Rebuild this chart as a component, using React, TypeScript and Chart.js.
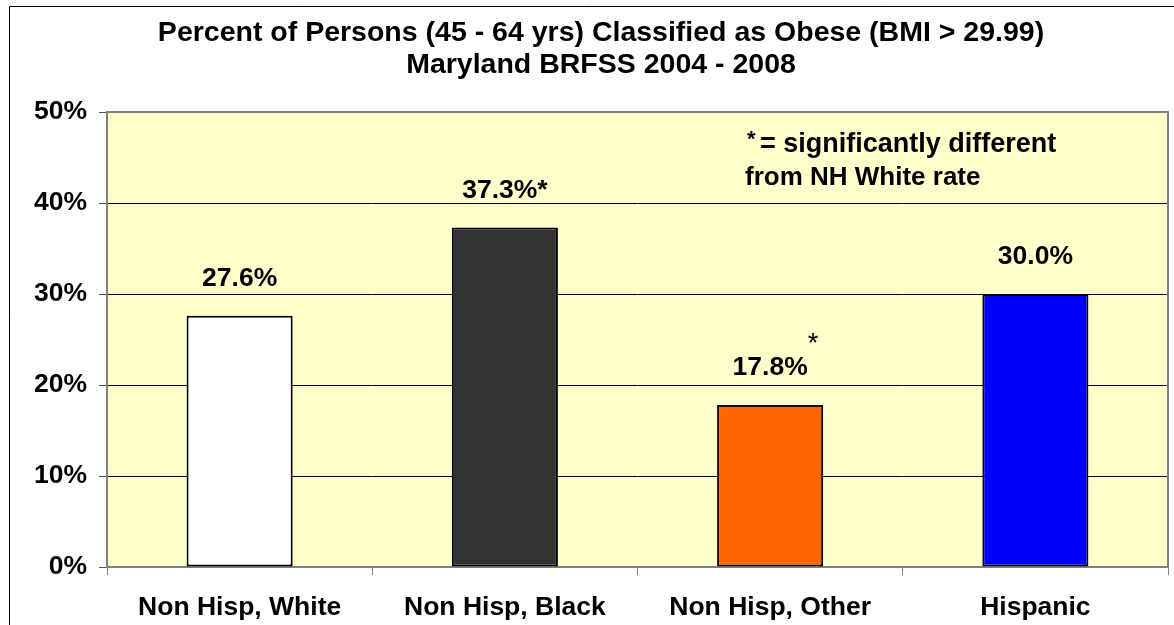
import React, { useEffect, useRef } from 'react';
import { Chart, registerables } from 'chart.js';

Chart.register(...registerables);

const categories = ['Non Hisp, White', 'Non Hisp, Black', 'Non Hisp, Other', 'Hispanic'];
const values = [27.6, 37.3, 17.8, 30.0];
const barColors = ['#FFFFFF', '#333333', '#FF6600', '#0000FF'];
// asterisk style per bar: '' none, 'inline' bold right after label, 'raised' thin raised star
const significance = ['', 'inline', 'raised', ''];
const yMin = 0;
const yMax = 50;
const yStep = 10;
const titleLines = [
  'Percent of Persons (45 - 64 yrs) Classified as Obese (BMI > 29.99)',
  'Maryland BRFSS 2004 - 2008',
];
const noteLines = ['= significantly different', 'from NH White rate'];

const FONT = "'Liberation Sans', Arial, Helvetica, sans-serif";

const decor = {
  id: 'decor',
  beforeDraw(chart: any) {
    const { ctx, chartArea: a } = chart;
    ctx.save();
    ctx.fillStyle = '#FFFFCC';
    ctx.fillRect(a.left, a.top, a.right - a.left, a.bottom - a.top);
    ctx.strokeStyle = '#000000';
    ctx.lineWidth = 1;
    ctx.beginPath();
    ctx.moveTo(9.5, chart.height);
    ctx.lineTo(9.5, 6.5);
    ctx.lineTo(chart.width, 6.5);
    ctx.stroke();
    ctx.fillStyle = '#000000';
    ctx.textAlign = 'center';
    ctx.textBaseline = 'alphabetic';
    ctx.font = `bold 28.5px ${FONT}`;
    ctx.fillText(titleLines[0], 601, 41);
    ctx.fillText(titleLines[1], 601, 73);
    ctx.restore();
  },
  beforeDatasetsDraw(chart: any) {
    const { ctx, chartArea: a } = chart;
    ctx.save();
    ctx.strokeStyle = '#808080';
    ctx.lineWidth = 2;
    ctx.strokeRect(a.left, a.top, a.right - a.left, a.bottom - a.top);
    ctx.restore();
  },
  afterDatasetsDraw(chart: any) {
    const { ctx } = chart;
    const meta = chart.getDatasetMeta(0);
    ctx.save();
    ctx.fillStyle = '#000000';
    ctx.textBaseline = 'alphabetic';
    meta.data.forEach((bar: any, i: number) => {
      const txt = values[i].toFixed(1) + '%';
      const y = bar.y - 30;
      ctx.font = `bold 26.5px ${FONT}`;
      ctx.textAlign = 'center';
      if (significance[i] === 'inline') {
        ctx.fillText(txt + '*', bar.x, y);
      } else {
        ctx.fillText(txt, bar.x, y);
        if (significance[i] === 'raised') {
          const w = ctx.measureText(txt).width;
          ctx.font = `27px ${FONT}`;
          ctx.textAlign = 'left';
          ctx.fillText('*', bar.x + w / 2, y - 23);
        }
      }
    });
    // note
    ctx.textAlign = 'left';
    ctx.font = `bold 22px ${FONT}`;
    ctx.fillText('*', 747, 146);
    ctx.font = `bold 27px ${FONT}`;
    ctx.fillText(noteLines[0], 760, 152);
    ctx.font = `bold 26px ${FONT}`;
    ctx.fillText(noteLines[1], 745, 185);
    ctx.restore();
  },
};

export default function App() {
  const ref = useRef<HTMLCanvasElement | null>(null);
  useEffect(() => {
    if (!ref.current) return;
    Chart.defaults.font.family = FONT;
    const chart = new Chart(ref.current, {
      type: 'bar',
      data: {
        labels: categories,
        datasets: [
          {
            data: values,
            backgroundColor: barColors,
            borderColor: '#000000',
            borderWidth: 2,
            borderSkipped: false,
            barPercentage: 0.4,
            categoryPercentage: 1,
          },
        ],
      },
      options: {
        responsive: false,
        animation: false,
        layout: { padding: { top: 112, right: 6, left: 0, bottom: 0 } },
        plugins: { legend: { display: false }, tooltip: { enabled: false }, title: { display: false } },
        scales: {
          x: {
            offset: true,
            grid: {
              drawOnChartArea: false,
              drawTicks: true,
              tickLength: 8,
              tickColor: '#808080',
              offset: true,
            },
            border: { display: false },
            ticks: {
              color: '#000000',
              padding: 17,
              maxRotation: 0,
              autoSkip: false,
              font: { size: 26.5, weight: 'bold', family: FONT },
            },
            afterFit: (s: any) => {
              s.height = 58;
            },
          },
          y: {
            min: yMin,
            max: yMax,
            ticks: {
              stepSize: yStep,
              color: '#000000',
              padding: 12,
              font: { size: 26.5, weight: 'bold', family: FONT },
              callback: (v: any) => v + '%',
            },
            grid: {
              color: (c: any) => (c.tick && (c.tick.value === yMin || c.tick.value === yMax) ? 'rgba(0,0,0,0)' : '#000000'),
              lineWidth: 1,
              tickLength: 8,
              tickColor: '#555555',
            },
            border: { display: false },
            afterFit: (s: any) => {
              s.width = 107;
            },
          },
        },
      },
      plugins: [decor],
    });
    return () => chart.destroy();
  }, []);
  return (
    <div style={{ position: 'fixed', left: 0, top: 0, width: 1174, height: 625, background: '#fff' }}>
      <canvas ref={ref} width={1174} height={625} style={{ width: 1174, height: 625, display: 'block' }} />
    </div>
  );
}
